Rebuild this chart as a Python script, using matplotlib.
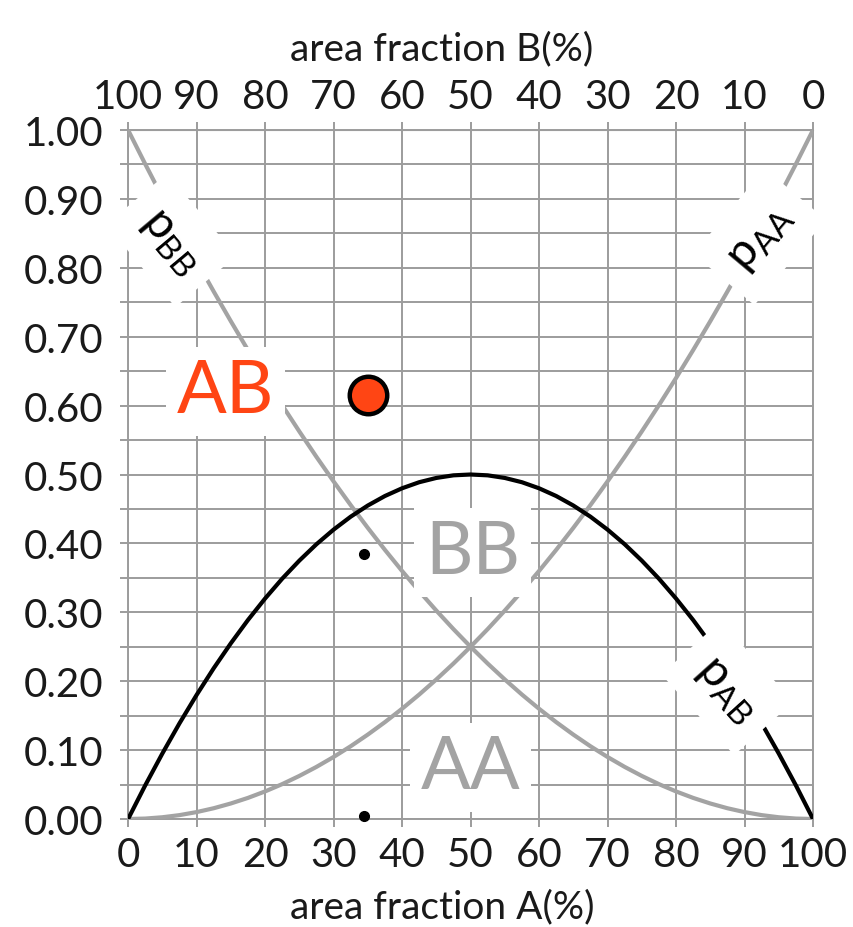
import matplotlib
matplotlib.use("Agg")
import matplotlib.pyplot as plt

plt.rcParams['font.family'] = ['Lato', 'DejaVu Sans']
plt.rcParams['mathtext.fontset'] = 'custom'
plt.rcParams['mathtext.rm'] = 'Lato'
plt.rcParams['mathtext.it'] = 'Lato'

# area fraction of A (%) and pair probabilities
frac_a = [0, 2.5, 5, 7.5, 10, 12.5, 15, 17.5, 20, 22.5, 25, 27.5, 30, 32.5, 35, 37.5, 40,
          42.5, 45, 47.5, 50, 52.5, 55, 57.5, 60, 62.5, 65, 67.5, 70, 72.5, 75, 77.5, 80,
          82.5, 85, 87.5, 90, 92.5, 95, 97.5, 100]
p_aa = [0.0, 0.0006, 0.0025, 0.0056, 0.01, 0.0156, 0.0225, 0.0306, 0.04, 0.0506, 0.0625,
        0.0756, 0.09, 0.1056, 0.1225, 0.1406, 0.16, 0.1806, 0.2025, 0.2256, 0.25,
        0.2756, 0.3025, 0.3306, 0.36, 0.3906, 0.4225, 0.4556, 0.49, 0.5256, 0.5625,
        0.6006, 0.64, 0.6806, 0.7225, 0.7656, 0.81, 0.8556, 0.9025, 0.9506, 1.0]
p_bb = [1.0, 0.9506, 0.9025, 0.8556, 0.81, 0.7656, 0.7225, 0.6806, 0.64, 0.6006, 0.5625,
        0.5256, 0.49, 0.4556, 0.4225, 0.3906, 0.36, 0.3306, 0.3025, 0.2756, 0.25,
        0.2256, 0.2025, 0.1806, 0.16, 0.1406, 0.1225, 0.1056, 0.09, 0.0756, 0.0625,
        0.0506, 0.04, 0.0306, 0.0225, 0.0156, 0.01, 0.0056, 0.0025, 0.0006, 0.0]
p_ab = [0.0, 0.0488, 0.095, 0.1388, 0.18, 0.2188, 0.255, 0.2888, 0.32, 0.3488, 0.375,
        0.3988, 0.42, 0.4388, 0.455, 0.4688, 0.48, 0.4888, 0.495, 0.4988, 0.5,
        0.4988, 0.495, 0.4888, 0.48, 0.4688, 0.455, 0.4388, 0.42, 0.3988, 0.375,
        0.3488, 0.32, 0.2888, 0.255, 0.2188, 0.18, 0.1388, 0.095, 0.0488, 0.0]

# measured point and its projections
meas_x = 35
meas_ab = 0.615
meas_bb = 0.385
meas_aa = 0.005

x_ticks = [0, 10, 20, 30, 40, 50, 60, 70, 80, 90, 100]
y_grid = [i * 0.05 for i in range(21)]

grey = '#a3a3a3'
grid_c = '#9c9c9c'
orange = '#ff4514'
ink = '#1a1a1a'

fig = plt.figure(figsize=(8.54, 9.28), dpi=100)
ax = fig.add_axes([0.150, 0.1164, 0.802, 0.7424])

ax.plot(frac_a, p_aa, color=grey, lw=3, zorder=3)
ax.plot(frac_a, p_bb, color=grey, lw=3, zorder=3)
ax.plot(frac_a, p_ab, color='black', lw=3, zorder=4)

ax.set_xlim(0, 100)
ax.set_ylim(0, 1)
ax.set_xticks(x_ticks)
ax.set_yticks(y_grid)
ax.set_yticklabels(['%.2f' % v if i % 2 == 0 else '' for i, v in enumerate(y_grid)])
ax.grid(True, color=grid_c, lw=1.4, zorder=1)
ax.set_axisbelow(True)
for s in ax.spines.values():
    s.set_color(grid_c)
    s.set_linewidth(1.4)
ax.tick_params(axis='both', colors=grid_c, labelcolor=ink, labelsize=29,
               length=6, width=1.4)
ax.tick_params(axis='y', pad=12)
ax.tick_params(axis='x', pad=6)
ax.set_xlabel('area fraction A(%)', fontsize=28, color=ink, labelpad=11, x=0.458)

top = ax.secondary_xaxis('top', functions=(lambda v: 100 - v, lambda v: 100 - v))
top.set_xticks(x_ticks)
top.tick_params(colors=grid_c, labelcolor=ink, labelsize=29, length=6, width=1.4, pad=5)
top.spines['top'].set_color(grid_c)
top.set_xlabel('area fraction B(%)', fontsize=28, color=ink, labelpad=13, x=0.458)

box = dict(facecolor='white', edgecolor='none', boxstyle='square,pad=0.4')

ax.text(6.3, 0.84, r'p$_{\mathrm{BB}}$', fontsize=34, rotation=-50, ha='center', va='center',
        bbox=box, zorder=5)
ax.text(92.2, 0.845, r'p$_{\mathrm{AA}}$', fontsize=34, rotation=50, ha='center', va='center',
        bbox=box, zorder=5)
ax.text(87.5, 0.19, r'p$_{\mathrm{AB}}$', fontsize=34, rotation=-48, ha='center', va='center',
        bbox=box, zorder=5)

big = dict(facecolor='white', edgecolor='none', boxstyle='square,pad=0.15')
ax.text(14.2, 0.62, 'AB', fontsize=53, color=orange, ha='center', va='center',
        bbox=big, zorder=5)
ax.text(50.3, 0.387, 'BB', fontsize=53, color=grey, ha='center', va='center',
        bbox=big, zorder=5)
ax.text(50.0, 0.075, 'AA', fontsize=53, color=grey, ha='center', va='center',
        bbox=big, zorder=5)

ax.plot([meas_x], [meas_ab], 'o', ms=27, mfc=orange, mec='black', mew=3.2, zorder=6, clip_on=False)
ax.plot([meas_x - 0.5, meas_x - 0.5], [meas_bb, meas_aa], 'o', ms=7, color='black', zorder=6,
        clip_on=False, ls='none')

fig.savefig('out.png', dpi=100)
